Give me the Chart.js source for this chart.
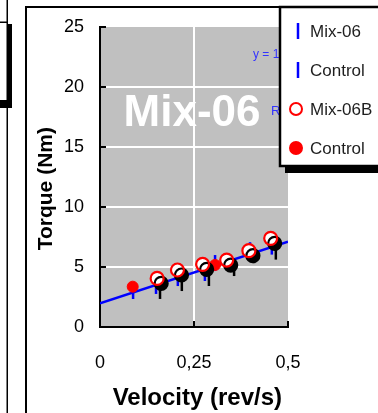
<!DOCTYPE html>
<html><head><meta charset="utf-8">
<script src="https://cdn.jsdelivr.net/npm/chart.js@4/dist/chart.umd.min.js"></script>
<style>html,body{margin:0;padding:0;background:#fff;overflow:hidden}#wrap{position:relative;width:378px;height:413px}canvas{display:block}</style>
</head><body><div id="wrap"><canvas id="c" width="378" height="413"></canvas></div>
<script>
// ---- data ----
const xTickValues = [0, 0.25, 0.5];
const yTickValues = [0, 5, 10, 15, 20, 25];
const seriesLabels = ['Mix-06', 'Control', 'Mix-06B', 'Control'];
const mix06X = [0.149, 0.207, 0.279, 0.346, 0.399, 0.457];
const mix06Y = [3.42, 4.08, 4.5, 5.33, 6.4, 6.7];
const controlBlueX = [0.088, 0.306];
const controlBlueY = [3.0, 5.33];
const mix06BX = [0.152, 0.206, 0.273, 0.337, 0.396, 0.454];
const mix06BY = [4.05, 4.75, 5.22, 5.58, 6.36, 7.39];
const controlRedX = [0.087, 0.306];
const controlRedY = [3.36, 5.17];
const trendX = [0, 0.5];
const trendY = [1.97, 7.1];
const overlayTitle = 'Mix-06';
const xTitle = 'Velocity (rev/s)';
const yTitle = 'Torque (Nm)';

const FONT = '"Liberation Sans", Arial, sans-serif';
const pts = (xs, ys) => xs.map((x, i) => ({x, y: ys[i]}));

const bgPlugin = {
  id: 'bg',
  beforeDraw(chart) {
    const {ctx, chartArea: a} = chart;
    ctx.save();
    ctx.fillStyle = '#fff';
    ctx.fillRect(0, 0, chart.width, chart.height);
    ctx.fillStyle = '#C0C0C0';
    ctx.fillRect(a.left, a.top, a.right - a.left, a.bottom - a.top);
    ctx.restore();
  },
  beforeDatasetsDraw(chart) {
    const {ctx, chartArea: a, scales} = chart;
    ctx.save();
    // inner tick marks
    ctx.strokeStyle = '#000'; ctx.lineWidth = 2;
    yTickValues.forEach(v => { if (v === 0) return; const y = scales.y.getPixelForValue(v);
      ctx.beginPath(); ctx.moveTo(a.left, y); ctx.lineTo(a.left + 6, y); ctx.stroke(); });
    xTickValues.forEach(v => { if (v === 0) return; const x = scales.x.getPixelForValue(v);
      ctx.beginPath(); ctx.moveTo(x, a.bottom); ctx.lineTo(x, a.bottom - 6); ctx.stroke(); });
    // big watermark label
    ctx.fillStyle = '#fff';
    ctx.font = 'bold 44px ' + FONT;
    ctx.textAlign = 'center'; ctx.textBaseline = 'middle';
    ctx.fillText(overlayTitle, 192, 114);
    // trendline labels (mostly hidden by legend)
    ctx.fillStyle = '#3333ff';
    ctx.font = '12px ' + FONT;
    ctx.textAlign = 'left';
    ctx.fillText('y = 10', 253, 55);
    ctx.font = '13px ' + FONT;
    ctx.fillText('R', 271, 111);
    ctx.restore();
  },
  beforeDatasetDraw(chart, args) {
    const ds = chart.data.datasets[args.index];
    if (ds.shadow) {
      const ctx = chart.ctx;
      ctx.save();
      ctx.shadowColor = '#000';
      ctx.shadowOffsetX = 4; ctx.shadowOffsetY = 5; ctx.shadowBlur = 0;
    }
  },
  afterDatasetDraw(chart, args) {
    const ds = chart.data.datasets[args.index];
    if (ds.shadow) chart.ctx.restore();
  },
  afterDraw(chart) {
    const ctx = chart.ctx;
    ctx.save();
    ctx.strokeStyle = '#000'; ctx.fillStyle = '#000';
    // outer frame of this chart
    ctx.fillRect(25, 6, 378 - 25, 2);
    ctx.fillRect(25, 6, 2, 413 - 6);
    // fragments of neighbouring chart
    ctx.fillRect(6.5, 0, 1.5, 413);
    ctx.fillRect(0, 21.5, 8, 1.5);
    ctx.fillRect(7, 24, 5, 84);
    ctx.fillRect(0, 100, 12, 8);
    // legend box with shadow
    const L = 280, T = 7, B = 166;
    ctx.fillRect(L + 5, B, 378 - L, 7);
    ctx.fillStyle = '#fff';
    ctx.fillRect(L, T, 378 - L + 5, B - T);
    ctx.lineWidth = 2.5;
    ctx.strokeRect(L, T, 378 - L + 10, B - T);
    const rows = [31, 70, 109, 148];
    const dsets = chart.data.datasets;
    const order = [0, 1, 2, 3];
    ctx.font = '17px ' + FONT;
    ctx.textAlign = 'left'; ctx.textBaseline = 'middle';
    order.forEach((di, i) => {
      const ds = dsets[di];
      const y = rows[i];
      if (ds.pointStyle === 'line') {
        ctx.strokeStyle = ds.borderColor; ctx.lineWidth = 2.5;
        ctx.beginPath(); ctx.moveTo(298, y - 8); ctx.lineTo(298, y + 8); ctx.stroke();
      } else {
        ctx.beginPath(); ctx.arc(296, y, 6, 0, Math.PI * 2);
        ctx.fillStyle = ds.backgroundColor; ctx.fill();
        ctx.strokeStyle = ds.borderColor; ctx.lineWidth = 2; ctx.stroke();
      }
      ctx.fillStyle = '#1e1e1e';
      ctx.fillText(ds.label, 310, y + 1);
    });
    ctx.restore();
  }
};

new Chart(document.getElementById('c'), {
  type: 'scatter',
  data: {
    datasets: [
      {label: seriesLabels[0], data: pts(mix06X, mix06Y), pointStyle: 'line', rotation: 90,
       pointRadius: 8, borderColor: '#0000ff', backgroundColor: '#0000ff', pointBorderWidth: 2.5, shadow: true, order: 5},
      {label: seriesLabels[1], data: pts(controlBlueX, controlBlueY), pointStyle: 'line', rotation: 90,
       pointRadius: 8, borderColor: '#0000ff', backgroundColor: '#0000ff', pointBorderWidth: 2.5, order: 4},
      {label: seriesLabels[2], data: pts(mix06BX, mix06BY), pointStyle: 'circle',
       pointRadius: 6.5, borderColor: '#ff0000', backgroundColor: '#ffffff', pointBorderWidth: 2.2, shadow: true, order: 1},
      {label: seriesLabels[3], data: pts(controlRedX, controlRedY), pointStyle: 'circle',
       pointRadius: 5.5, borderColor: '#ff0000', backgroundColor: '#ff0000', pointBorderWidth: 1, order: 2},
      {label: 'trend', type: 'line', data: pts(trendX, trendY), borderColor: '#0000ff', borderWidth: 2.5,
       pointRadius: 0, fill: false, order: 3}
    ]
  },
  options: {
    responsive: false, animation: false,
    layout: {padding: {top: 27, right: 90, left: 0, bottom: 0}},
    plugins: {legend: {display: false}, tooltip: {enabled: false}},
    scales: {
      x: {
        type: 'linear', min: 0, max: 0.5,
        afterFit: s => { s.height = 86; },
        afterBuildTicks: s => { s.ticks = xTickValues.map(v => ({value: v})); },
        ticks: {padding: 25, color: '#000', font: {family: FONT, size: 18},
          callback: v => String(v).replace('.', ',')},
        grid: {drawTicks: false, lineWidth: 2,
          color: c => (c.tick && c.tick.value > 0 && c.tick.value < 0.5) ? '#fff' : 'rgba(0,0,0,0)'},
        border: {display: true, color: '#000', width: 2},
        title: {display: true, text: ' ' + xTitle, color: '#000', font: {family: FONT, size: 24, weight: 'bold'},
          padding: {top: 2, bottom: 0}}
      },
      y: {
        type: 'linear', min: 0, max: 25,
        afterFit: s => { s.width = 100; },
        afterBuildTicks: s => { s.ticks = yTickValues.map(v => ({value: v})); },
        ticks: {padding: 16, color: '#000', font: {family: FONT, size: 18}},
        grid: {drawTicks: false, lineWidth: 2,
          color: c => (c.tick && c.tick.value > 0 && c.tick.value < 25) ? '#fff' : 'rgba(0,0,0,0)'},
        border: {display: true, color: '#000', width: 2},
        title: {display: true, text: yTitle + '    ', color: '#000', font: {family: FONT, size: 21, weight: 'bold'},
          padding: {top: 34, bottom: 0}}
      }
    }
  },
  plugins: [bgPlugin]
});
</script></body></html>
